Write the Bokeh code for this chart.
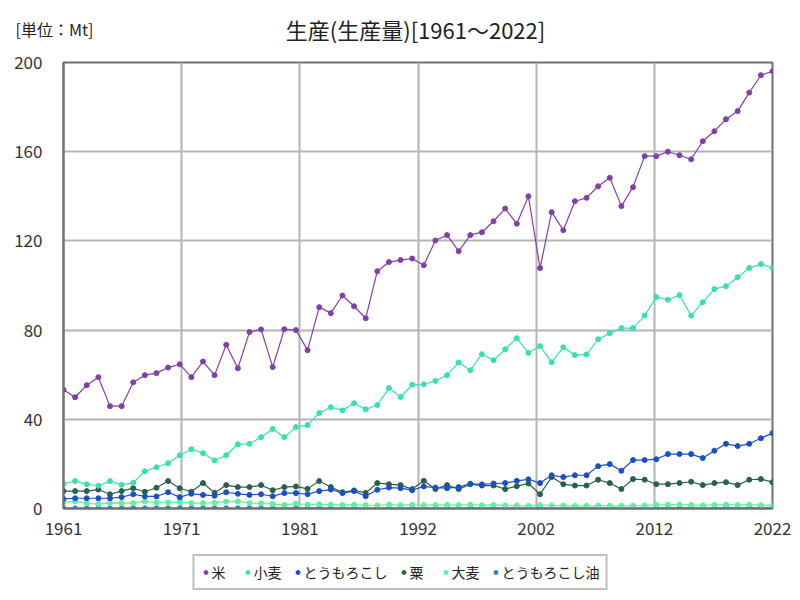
from bokeh.plotting import figure
from bokeh.layouts import column
from bokeh.models import (FixedTicker, CustomJSTickFormatter, Legend, LegendItem,
                          Range1d)
from bokeh.core.properties import value
from bokeh.embed import file_html
from bokeh.resources import INLINE

years = list(range(1961, 2023))

rice = [53.2, 49.9, 55.3, 58.9, 45.9, 45.9, 56.6, 59.8, 60.7, 63.2,
        64.7, 58.9, 65.9, 59.8, 73.4, 62.9, 79.1, 80.3, 63.4, 80.4,
        80.0, 71.0, 90.3, 87.6, 95.5, 90.7, 85.3, 106.4, 110.5, 111.4,
        112.1, 109.1, 120.2, 122.6, 115.4, 122.6, 123.9, 128.8, 134.5, 127.7,
        140.0, 107.8, 132.9, 124.8, 137.8, 139.3, 144.5, 148.3, 135.6, 144.1,
        158.0, 158.0, 160.0, 158.4, 156.6, 164.7, 169.2, 174.6, 178.2, 186.5,
        194.3, 196.1]
wheat = [11.1, 12.3, 10.9, 10.2, 12.3, 10.6, 11.5, 16.7, 18.5, 20.3,
         23.9, 26.6, 24.8, 21.5, 23.9, 28.8, 29.0, 32.0, 35.6, 32.0,
         36.5, 37.4, 42.8, 45.4, 44.0, 47.2, 44.5, 46.4, 54.0, 50.0,
         55.5, 55.7, 57.2, 59.8, 65.5, 62.0, 69.2, 66.5, 71.4, 76.4,
         69.8, 72.8, 65.6, 72.3, 68.8, 69.1, 75.9, 78.6, 80.9, 80.9,
         86.5, 94.8, 93.6, 95.7, 86.5, 92.5, 98.4, 99.7, 103.7, 107.8,
         109.6, 107.8]
corn = [4.3, 4.6, 4.6, 4.6, 4.6, 5.1, 6.4, 5.4, 5.4, 7.3,
        5.1, 6.6, 6.1, 5.7, 7.3, 6.6, 6.1, 6.4, 5.5, 6.9,
        6.9, 6.4, 7.8, 8.5, 6.9, 7.8, 5.5, 8.4, 9.4, 9.1,
        8.2, 9.9, 9.4, 9.1, 9.6, 11.1, 10.8, 11.2, 11.4, 12.4,
        13.1, 11.4, 14.9, 14.1, 14.9, 14.9, 19.0, 19.9, 16.9, 21.7,
        21.7, 22.1, 24.4, 24.4, 24.4, 22.6, 25.9, 29.0, 28.0, 29.0,
        31.5, 33.8]
millet = [7.8, 7.8, 7.8, 8.5, 6.4, 7.8, 9.1, 7.5, 9.3, 12.3,
          9.1, 7.5, 11.4, 7.0, 10.5, 9.6, 9.6, 10.5, 8.2, 9.6,
          9.9, 8.8, 12.3, 9.6, 7.3, 8.1, 7.0, 11.4, 10.9, 10.5,
          8.7, 12.4, 8.7, 10.5, 8.7, 10.9, 10.3, 10.3, 8.7, 10.0,
          11.2, 6.4, 14.1, 10.9, 10.3, 10.3, 12.9, 11.4, 8.7, 13.2,
          12.9, 10.9, 10.9, 11.4, 12.0, 10.5, 11.4, 11.8, 10.5, 12.9,
          13.2, 11.8]
barley = [2.8, 3.2, 2.4, 2.0, 2.5, 2.4, 2.4, 3.2, 2.6, 2.7,
          2.9, 2.4, 2.4, 2.6, 3.1, 3.2, 2.4, 2.3, 2.0, 1.6,
          2.2, 1.8, 1.9, 1.8, 1.6, 1.7, 1.5, 1.4, 1.7, 1.5,
          1.7, 1.5, 1.6, 1.6, 1.5, 1.7, 1.5, 1.6, 1.4, 1.4,
          1.2, 1.6, 1.4, 1.3, 1.2, 1.2, 1.3, 1.3, 1.2, 1.3,
          1.4, 1.6, 1.7, 1.8, 1.6, 1.4, 1.6, 1.7, 1.6, 1.7,
          1.5, 1.4]
corn_oil = [0.05, 0.05, 0.05, 0.05, 0.05, 0.05, 0.06, 0.06, 0.06, 0.07,
            0.07, 0.07, 0.07, 0.07, 0.08, 0.08, 0.08, 0.08, 0.08, 0.09,
            0.09, 0.09, 0.1, 0.1, 0.1, 0.1, 0.1, 0.11, 0.11, 0.11,
            0.11, 0.12, 0.12, 0.12, 0.12, 0.13, 0.13, 0.13, 0.13, 0.14,
            0.14, 0.14, 0.15, 0.15, 0.15, 0.16, 0.17, 0.18, 0.18, 0.19,
            0.2, 0.2, 0.21, 0.21, 0.22, 0.22, 0.23, 0.24, 0.24, 0.25,
            0.26, 0.26]

series_names = ["米", "小麦", "とうもろこし", "粟", "大麦", "とうもろこし油"]
series_values = [rice, wheat, corn, millet, barley, corn_oil]
series_colors = ["#8040a8", "#38e0b0", "#1a4fc8", "#28604a", "#60f0a0", "#2a80c8"]

title_text = "生産(生産量)[1961～2022]"
unit_text = "[単位：Mt]"

x_ticks = [1961 + 61 * k / 6 for k in range(7)]
y_ticks = [0, 40, 80, 120, 160, 200]

FONT = "Noto Sans CJK JP"


def bare_figure(w, h, xr, yr):
    fig = figure(width=w, height=h, output_backend="svg", toolbar_location=None,
                 x_range=xr, y_range=yr, x_axis_location=None, y_axis_location=None,
                 min_border_left=0, min_border_right=0, min_border_top=0,
                 min_border_bottom=0)
    fig.frame_align = False
    fig.grid.visible = False
    fig.outline_line_color = None
    fig.background_fill_color = "white"
    fig.border_fill_color = "white"
    return fig


# ---- header (title + unit) ----
head = bare_figure(800, 50, Range1d(0, 800), Range1d(50, 0))
head.text(x=[415], y=[28], text=[title_text], text_align="center",
          text_baseline="middle", text_font=value(FONT),
          text_font_size="22px", text_color="#222222")
head.text(x=[15], y=[28], text=[unit_text], text_align="left",
          text_baseline="middle", text_font=value(FONT),
          text_font_size="16px", text_color="#222222")

# ---- main chart ----
p = figure(width=800, height=493, output_backend="svg", toolbar_location=None,
           x_range=Range1d(1961, 2022), y_range=Range1d(0, 200),
           min_border_left=63, min_border_right=28, min_border_top=12,
           min_border_bottom=35)
p.frame_align = False
p.background_fill_color = "white"
p.border_fill_color = "white"
p.outline_line_color = "#707070"
p.outline_line_width = 2

for name, vals, col in reversed(list(zip(series_names, series_values, series_colors))):
    p.line(years, vals, line_color=col, line_width=1.2)
    p.scatter(years, vals, size=5, fill_color=col, line_color=col)

p.xaxis.ticker = FixedTicker(ticks=x_ticks)
p.xaxis.formatter = CustomJSTickFormatter(code="return Math.round(tick).toString();")
p.yaxis.ticker = FixedTicker(ticks=y_ticks)

for ax in (p.xaxis, p.yaxis):
    ax.major_tick_line_color = None
    ax.minor_tick_line_color = None
    ax.axis_line_color = "#707070"
    ax.axis_line_width = 2
    ax.major_label_text_font = FONT
    ax.major_label_text_font_size = "17px"
    ax.major_label_text_color = "#333333"
p.xaxis.major_label_standoff = 7
p.yaxis.major_label_standoff = 15

p.xgrid.ticker = FixedTicker(ticks=x_ticks)
p.ygrid.ticker = FixedTicker(ticks=y_ticks)
p.grid.grid_line_color = "#b4b4b4"
p.grid.grid_line_width = 2

# ---- legend strip ----
leg = bare_figure(800, 57, Range1d(0, 1), Range1d(0, 1))
items = []
for name, col in zip(series_names, series_colors):
    r = leg.scatter([5], [5], size=10, fill_color=col, line_color=col)
    items.append(LegendItem(label=name, renderers=[r]))
legend = Legend(items=items, orientation="horizontal", location="center",
                label_text_font=FONT, label_text_font_size="14px",
                label_text_color="#222222",
                glyph_width=10, glyph_height=12, label_standoff=1,
                spacing=11, padding=6, margin=0,
                border_line_color="#808080", border_line_width=2)
leg.add_layout(legend)

layout = column(head, p, leg, spacing=0)
open("out.html", "w").write(file_html(layout, INLINE))
